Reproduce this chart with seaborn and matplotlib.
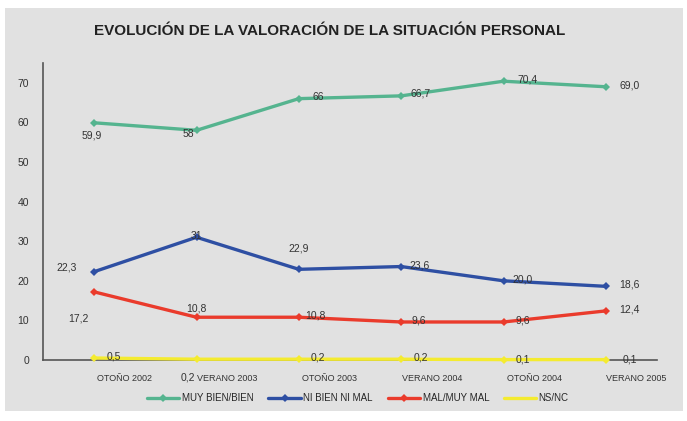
import numpy as np
import pandas as pd
import matplotlib
matplotlib.use("Agg")
import matplotlib.pyplot as plt
import seaborn as sns
from matplotlib.patches import Rectangle
from matplotlib.lines import Line2D

# ── data ──────────────────────────────────────────────
periodos = ["OTOÑO 2002", "VERANO 2003", "OTOÑO 2003",
            "VERANO 2004", "OTOÑO 2004", "VERANO 2005"]
muy_bien = [59.9, 58.0, 66.0, 66.7, 70.4, 69.0]
ni_bien = [22.3, 31.0, 22.9, 23.6, 20.0, 18.6]
mal = [17.2, 10.8, 10.8, 9.6, 9.6, 12.4]
nsnc = [0.5, 0.2, 0.2, 0.2, 0.1, 0.1]

etiq_muy_bien = ["59,9", "58", "66", "66,7", "70,4", "69,0"]
etiq_ni_bien = ["22,3", "31", "22,9", "23,6", "20,0", "18,6"]
etiq_mal = ["17,2", "10,8", "10,8", "9,6", "9,6", "12,4"]
etiq_nsnc = ["0,5", "0,2", "0,2", "0,2", "0,1", "0,1"]

series = ["MUY BIEN/BIEN", "NI BIEN NI MAL", "MAL/MUY MAL", "NS/NC"]
colores = ["#55b48f", "#2e4fa3", "#ea3b2c", "#f4eb30"]

df = pd.DataFrame({"periodo": periodos * 4,
                   "x": list(range(6)) * 4,
                   "valor": muy_bien + ni_bien + mal + nsnc,
                   "serie": np.repeat(series, 6)})

# label offsets (points) for each series
off_muy_bien = [(-2, -9), (-6, -3), (14, 1), (14, 2), (17, 1), (17, 1)]
off_ni_bien = [(-20, 3), (0, 1), (0, 15), (13, 1), (14, 1), (17, 1)]
off_mal = [(-11, -19), (0, 6), (12, 1), (13, 1), (14, 1), (17, 1)]
off_nsnc = [(14, 1), (-6, -13), (14, 1), (14, 1), (14, 0), (17, 0)]

sns.set_theme(style="white")
plt.rcParams["font.family"] = ["Liberation Sans", "DejaVu Sans"]

fig = plt.figure(figsize=(6.87, 4.21), dpi=100)
fig.patch.set_facecolor("white")
fig.patches.append(Rectangle((5 / 687, 10 / 421), 678 / 687, 403 / 421,
                             transform=fig.transFigure, facecolor="#e1e1e1",
                             edgecolor="none", zorder=-10))
ax = fig.add_axes([43 / 687, 1 - 360 / 421, 614 / 687, 297 / 421])
ax.set_facecolor("none")

sns.lineplot(data=df, x="x", y="valor", hue="serie", hue_order=series,
             palette=colores, marker="D", markersize=4, markeredgewidth=0,
             linewidth=2.4, legend=False, ax=ax, clip_on=False, zorder=3)

txt_kw = dict(fontsize=7.5, color="#333333", ha="center", va="center",
              textcoords="offset points", zorder=4)
for vals, labs, offs in [(muy_bien, etiq_muy_bien, off_muy_bien),
                         (ni_bien, etiq_ni_bien, off_ni_bien),
                         (mal, etiq_mal, off_mal),
                         (nsnc, etiq_nsnc, off_nsnc)]:
    for i, (v, lab, o) in enumerate(zip(vals, labs, offs)):
        ax.annotate(lab, (i, v), xytext=o, **txt_kw)

ax.set_xlim(-0.5, 5.5)
ax.set_ylim(0, 75)
ax.set_yticks(range(0, 80, 10))
ax.set_xticks([i + 0.5 for i in range(6)])
ax.set_xticklabels([])
ax.set_xticks([i + 0.3 for i in range(6)], minor=True)
ax.set_xticklabels(periodos, minor=True, fontsize=6.5, color="#333333")
ax.tick_params(axis="x", which="major", direction="out", length=3,
               width=0.8, color="#555555")
ax.tick_params(axis="x", which="minor", length=0, pad=10)
ax.tick_params(axis="y", direction="out", length=4, width=0.8,
               color="#555555", labelsize=7.5, labelcolor="#333333", pad=6)
for s in ["top", "right"]:
    ax.spines[s].set_visible(False)
for s in ["left", "bottom"]:
    ax.spines[s].set_color("#555555")
    ax.spines[s].set_linewidth(1.2)
ax.set_xlabel("")
ax.set_ylabel("")

fig.text(330 / 687, 1 - 31 / 421,
         "EVOLUCIÓN DE LA VALORACIÓN DE LA SITUACIÓN PERSONAL",
         ha="center", va="center", fontsize=11, fontweight="bold",
         color="#222222")

handles = [Line2D([], [], color=c, linewidth=2.4, marker="D" if c != colores[3] else None,
                  markersize=4, markeredgewidth=0) for c in colores]
fig.legend(handles, series, loc="center", bbox_to_anchor=(358 / 687, 1 - 398 / 421),
           ncol=4, frameon=False, fontsize=7, handlelength=3.3,
           handletextpad=0.3, columnspacing=1.5)

fig.savefig("out.png", dpi=100)
